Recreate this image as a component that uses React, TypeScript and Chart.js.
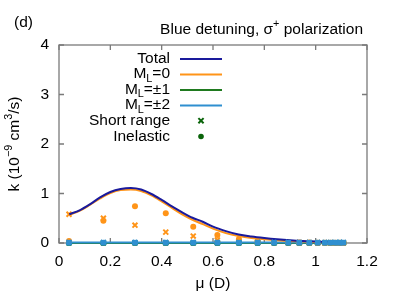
import React, { useEffect, useRef } from "react";
import { Chart, registerables } from "chart.js";

Chart.register(...registerables);

// ---- data ----
const muPoints = [0.039, 0.173, 0.296, 0.416, 0.523, 0.617, 0.701, 0.774, 0.838, 0.893, 0.936, 0.975, 1.008, 1.036, 1.058, 1.078, 1.095, 1.108];
const shortRangeML0 = [0.58, 0.5, 0.36, 0.22, 0.14, 0.06, 0.03, 0.02, 0.015, 0.01, 0.01, 0.008, 0.006, 0.005, 0.004, 0.003, 0.003, 0.002];
const inelasticML0 = [0.04, 0.45, 0.74, 0.6, 0.33, 0.16, 0.08, 0.04, 0.025, 0.015, 0.01, 0.008, 0.006, 0.005, 0.004, 0.003, 0.003, 0.002];
const shortRangeML1 = [0.002, 0.002, 0.002, 0.002, 0.002, 0.002, 0.002, 0.002, 0.002, 0.002, 0.002, 0.002, 0.002, 0.002, 0.002, 0.002, 0.002, 0.002];
const inelasticML1 = [0.001, 0.001, 0.001, 0.001, 0.001, 0.001, 0.001, 0.001, 0.001, 0.001, 0.001, 0.001, 0.001, 0.001, 0.001, 0.001, 0.001, 0.001];
const shortRangeML2 = [0.01, 0.01, 0.01, 0.01, 0.01, 0.01, 0.01, 0.01, 0.01, 0.01, 0.01, 0.01, 0.01, 0.01, 0.01, 0.01, 0.01, 0.01];
const inelasticML2 = [0.005, 0.005, 0.005, 0.005, 0.005, 0.005, 0.005, 0.005, 0.005, 0.005, 0.005, 0.005, 0.005, 0.005, 0.005, 0.005, 0.005, 0.005];

const curveMu = [0.04, 0.08, 0.12, 0.16, 0.2, 0.24, 0.28, 0.32, 0.36, 0.4, 0.44, 0.48, 0.52, 0.56, 0.6, 0.65, 0.7, 0.75, 0.8, 0.85, 0.9, 0.95, 1.0, 1.05, 1.1];
const totalK = [0.58, 0.66, 0.78, 0.92, 1.03, 1.09, 1.11, 1.08, 0.99, 0.87, 0.74, 0.62, 0.51, 0.43, 0.33, 0.24, 0.17, 0.13, 0.1, 0.075, 0.055, 0.04, 0.03, 0.02, 0.015];
const ml0K = [0.57, 0.65, 0.77, 0.9, 1.01, 1.07, 1.08, 1.05, 0.96, 0.84, 0.71, 0.58, 0.47, 0.38, 0.29, 0.2, 0.14, 0.1, 0.075, 0.055, 0.04, 0.03, 0.02, 0.015, 0.01];
const ml1K = [0.002, 0.002, 0.002, 0.002, 0.002, 0.002, 0.002, 0.002, 0.002, 0.002, 0.002, 0.002, 0.002, 0.002, 0.002, 0.002, 0.002, 0.002, 0.002, 0.002, 0.002, 0.002, 0.002, 0.002, 0.002];
const ml2K = [0.008, 0.008, 0.008, 0.008, 0.008, 0.008, 0.008, 0.008, 0.008, 0.008, 0.008, 0.008, 0.008, 0.008, 0.008, 0.008, 0.008, 0.008, 0.008, 0.008, 0.008, 0.008, 0.008, 0.008, 0.008];

const xTicks = [0, 0.2, 0.4, 0.6, 0.8, 1, 1.2];
const yTicks = [0, 1, 2, 3, 4];

const C_TOTAL = "#1a1a9c";
const C_ML0 = "#ff9418";
const C_ML1 = "#1f7a1f";
const C_ML2 = "#2f8fd0";
const C_LEG = "#0a640a";

const FONT = '"Liberation Sans", Arial, sans-serif';
const FS = 15.5;

type Part = { t: string; sup?: boolean; sub?: boolean };

function partFont(p: Part) {
  return `${p.sup || p.sub ? FS * 0.7 : FS}px ${FONT}`;
}

function richWidth(ctx: CanvasRenderingContext2D, parts: Part[]) {
  let w = 0;
  for (const p of parts) {
    ctx.font = partFont(p);
    w += ctx.measureText(p.t).width;
  }
  return w;
}

function drawRich(ctx: CanvasRenderingContext2D, parts: Part[], x: number, y: number, align: "left" | "right" | "center") {
  const w = richWidth(ctx, parts);
  let cx = align === "left" ? x : align === "right" ? x - w : x - w / 2;
  ctx.textAlign = "left";
  ctx.textBaseline = "middle";
  ctx.fillStyle = "#000";
  for (const p of parts) {
    ctx.font = partFont(p);
    const dy = p.sup ? -FS * 0.4 : p.sub ? FS * 0.3 : 0;
    ctx.fillText(p.t, cx, y + dy);
    cx += ctx.measureText(p.t).width;
  }
}

const pts = (xs: number[], ys: number[]) => xs.map((x, i) => ({ x, y: ys[i] }));

const decorPlugin = {
  id: "decor",
  beforeDatasetsDraw(chart: any) {
    const ctx: CanvasRenderingContext2D = chart.ctx;
    const { left, right, top, bottom } = chart.chartArea;
    const xs = chart.scales.x;
    const ys = chart.scales.y;
    ctx.save();
    ctx.strokeStyle = "#7a7a7a";
    ctx.lineWidth = 1.3;
    ctx.strokeRect(left, top, right - left, bottom - top);
    ctx.beginPath();
    const tl = 5;
    for (const v of xTicks) {
      const px = xs.getPixelForValue(v);
      ctx.moveTo(px, bottom);
      ctx.lineTo(px, bottom - tl);
      ctx.moveTo(px, top);
      ctx.lineTo(px, top + tl);
    }
    for (const v of yTicks) {
      const py = ys.getPixelForValue(v);
      ctx.moveTo(left, py);
      ctx.lineTo(left + tl, py);
      ctx.moveTo(right, py);
      ctx.lineTo(right - tl, py);
    }
    ctx.stroke();
    ctx.restore();
  },
  afterDraw(chart: any) {
    const ctx: CanvasRenderingContext2D = chart.ctx;
    const { left, right, top, bottom } = chart.chartArea;
    ctx.save();
    // panel label and title
    drawRich(ctx, [{ t: "(d)" }], 14, 23, "left");
    drawRich(ctx, [{ t: "Blue detuning, σ" }, { t: "+", sup: true }, { t: " polarization" }], 363, 30, "right");
    // axis titles
    drawRich(ctx, [{ t: "μ (D)" }], (left + right) / 2, 284, "center");
    ctx.save();
    ctx.translate(15, (top + bottom) / 2);
    ctx.rotate(-Math.PI / 2);
    drawRich(ctx, [{ t: "k (10" }, { t: "−9", sup: true }, { t: " cm" }, { t: "3", sup: true }, { t: "/s)" }], 0, 0, "center");
    ctx.restore();

    // legend
    const tx = 170;
    const lx0 = 180;
    const lx1 = 222;
    const mx = 201;
    const rows: { parts: Part[]; kind: string; color: string; y: number }[] = [
      { parts: [{ t: "Total" }], kind: "line", color: C_TOTAL, y: 58.5 },
      { parts: [{ t: "M" }, { t: "L", sub: true }, { t: "=0" }], kind: "line", color: C_ML0, y: 74 },
      { parts: [{ t: "M" }, { t: "L", sub: true }, { t: "=±1" }], kind: "line", color: C_ML1, y: 89.5 },
      { parts: [{ t: "M" }, { t: "L", sub: true }, { t: "=±2" }], kind: "line", color: C_ML2, y: 105 },
      { parts: [{ t: "Short range" }], kind: "cross", color: C_LEG, y: 120.7 },
      { parts: [{ t: "Inelastic" }], kind: "dot", color: C_LEG, y: 136.5 },
    ];
    for (const r of rows) {
      drawRich(ctx, r.parts, tx, r.y, "right");
      ctx.strokeStyle = r.color;
      ctx.fillStyle = r.color;
      ctx.lineWidth = 2;
      if (r.kind === "line") {
        ctx.beginPath();
        ctx.moveTo(lx0, r.y + 0.5);
        ctx.lineTo(lx1, r.y + 0.5);
        ctx.stroke();
      } else if (r.kind === "cross") {
        const s = 2.6;
        ctx.beginPath();
        ctx.moveTo(mx - s, r.y - s);
        ctx.lineTo(mx + s, r.y + s);
        ctx.moveTo(mx + s, r.y - s);
        ctx.lineTo(mx - s, r.y + s);
        ctx.stroke();
      } else {
        ctx.beginPath();
        ctx.arc(mx, r.y, 2.8, 0, Math.PI * 2);
        ctx.fill();
      }
    }
    ctx.restore();
  },
};

export default function App() {
  const ref = useRef<HTMLCanvasElement | null>(null);
  useEffect(() => {
    document.body.style.margin = "0";
    if (!ref.current) return;
    const lineDs = (ys: number[], color: string, order: number) => ({
      type: "line" as const,
      data: pts(curveMu, ys),
      borderColor: color,
      backgroundColor: color,
      borderWidth: 2,
      pointRadius: 0,
      showLine: true,
      cubicInterpolationMode: "monotone" as const,
      clip: false as any,
      order,
    });
    const markDs = (ys: number[], color: string, style: string, order: number) => ({
      type: "scatter" as const,
      data: pts(muPoints, ys),
      borderColor: color,
      backgroundColor: color,
      pointStyle: style,
      pointRadius: style === "circle" ? 3 : 3.5,
      pointBorderWidth: style === "circle" ? 0 : 2,
      showLine: false,
      clip: false as any,
      order,
    });
    const chart = new Chart(ref.current, {
      type: "scatter",
      data: {
        datasets: [
          markDs(inelasticML2, C_ML2, "circle", 0),
          markDs(shortRangeML2, C_ML2, "crossRot", 1),
          lineDs(totalK, C_TOTAL, 2),
          lineDs(ml0K, C_ML0, 3),
          markDs(inelasticML0, C_ML0, "circle", 4),
          markDs(shortRangeML0, C_ML0, "crossRot", 5),
          lineDs(ml2K, C_ML2, 6),
          lineDs(ml1K, C_ML1, 7),
          markDs(inelasticML1, C_ML1, "circle", 8),
          markDs(shortRangeML1, C_ML1, "crossRot", 9),
        ] as any,
      },
      options: {
        responsive: false,
        devicePixelRatio: 1,
        animation: false,
        layout: { padding: { left: 0, right: 28, top: 45, bottom: 0 } },
        plugins: { legend: { display: false }, tooltip: { enabled: false }, title: { display: false } },
        scales: {
          x: {
            type: "linear",
            min: 0,
            max: 1.2,
            grid: { display: false, drawTicks: false },
            border: { display: false },
            afterFit: (s: any) => {
              s.height = 51;
            },
            afterBuildTicks: (s: any) => {
              s.ticks = xTicks.map((v) => ({ value: v }));
            },
            ticks: {
              padding: 9,
              color: "#000",
              font: { family: FONT, size: FS },
              maxRotation: 0,
              callback: (v: any) => String(Number(Number(v).toFixed(1))),
            },
          },
          y: {
            type: "linear",
            min: 0,
            max: 4,
            grid: { display: false, drawTicks: false },
            border: { display: false },
            afterFit: (s: any) => {
              s.width = 59;
            },
            afterBuildTicks: (s: any) => {
              s.ticks = yTicks.map((v) => ({ value: v }));
            },
            ticks: {
              padding: 10,
              color: "#000",
              font: { family: FONT, size: FS },
              callback: (v: any) => String(v),
            },
          },
        },
      },
      plugins: [decorPlugin],
    });
    return () => chart.destroy();
  }, []);
  return (
    <div style={{ width: 395, height: 294 }}>
      <canvas ref={ref} width={395} height={294} style={{ display: "block" }} />
    </div>
  );
}
